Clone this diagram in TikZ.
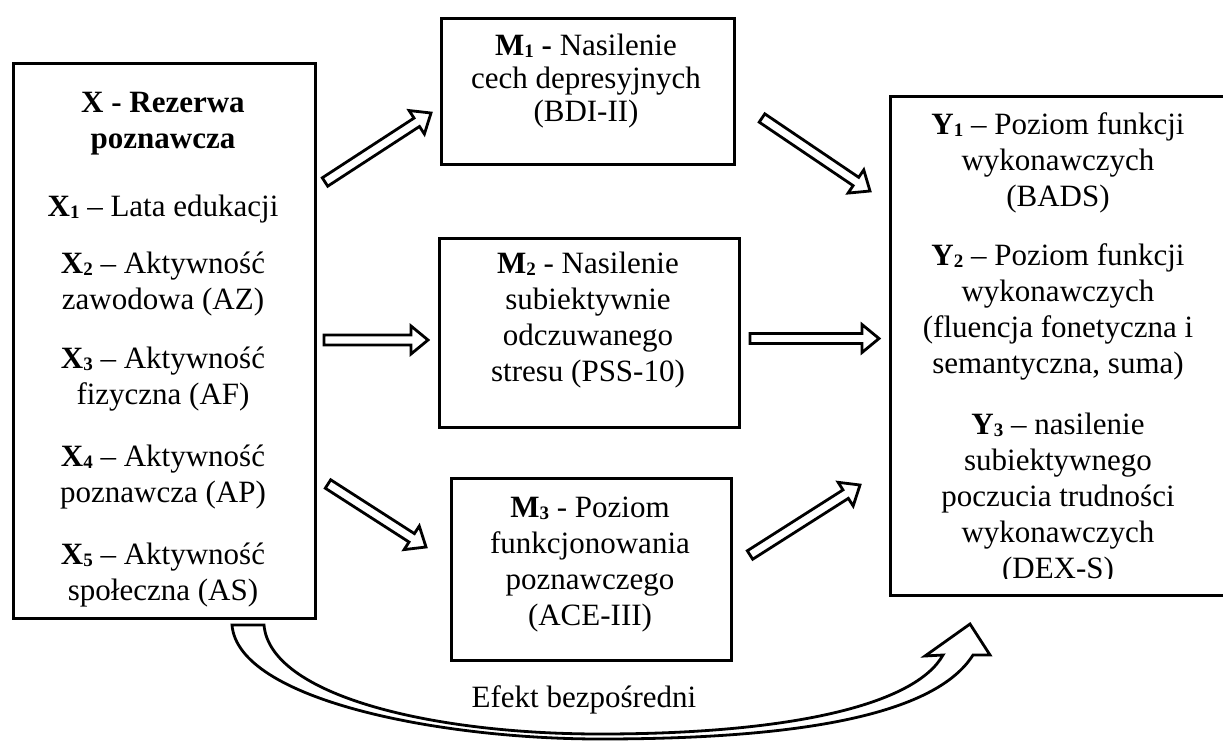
\documentclass[tikz,border=0pt]{standalone}
\usepackage{fontspec}
\setmainfont{Liberation Serif}
\usetikzlibrary{calc}

% lowered index digit, as in X1, M2, Y3
\newcommand{\idx}[1]{\raisebox{-2pt}{\fontsize{19}{19}\selectfont #1}}

% hollow block arrow from tail coordinate #1 to tip coordinate #2
\newcommand{\blockarrow}[2]{%
  \coordinate (hb) at ($(#2)!17pt!(#1)$);
  \draw[hollow]
    ($(#1)!5pt!90:(#2)$)
    -- ($(hb)!5pt!-90:(#1)$)
    -- ($(hb)!14pt!-90:(#1)$)
    -- (#2)
    -- ($(hb)!14pt!90:(#1)$)
    -- ($(hb)!5pt!90:(#1)$)
    -- ($(#1)!5pt!-90:(#2)$)
    -- cycle;
}

\tikzset{
  box/.style={draw, line width=3pt, fill=white, inner sep=0pt, anchor=north west},
  boxtext/.style={anchor=north, align=center, inner sep=0pt,
                  font=\fontsize{31}{36}\selectfont},
  hollow/.style={draw, line width=2.8pt, fill=white, line join=miter},
}

\begin{document}
\begin{tikzpicture}[x=1pt, y=-1pt]
\fill[white] (0,0) rectangle (1223,742);
\useasboundingbox (0,0) rectangle (1223,742);

% boxes
\node[box, minimum width=302pt, minimum height=555pt] (X)  at (12,62)  {};
\node[box, minimum width=293pt, minimum height=146pt] (M1) at (440,17) {};
\node[box, minimum width=300pt, minimum height=189pt] (M2) at (438,237) {};
\node[box, minimum width=280pt, minimum height=182pt] (M3) at (450,477) {};
\node[box, minimum width=339pt, minimum height=499pt] (Y)  at (889,95) {};

% box contents
\node[boxtext] (Xt) at (163,87) {\strut\textbf{X - Rezerwa}\\
  \textbf{poznawcza}\\[32pt]
  \textbf{X\idx{1}} – Lata edukacji\\[21pt]
  \textbf{X\idx{2}} – Aktywność\\
  zawodowa (AZ)\\[23pt]
  \textbf{X\idx{3}} – Aktywność\\
  fizyczna (AF)\\[26pt]
  \textbf{X\idx{4}} – Aktywność\\
  poznawcza (AP)\\[26pt]
  \textbf{X\idx{5}} – Aktywność\\
  społeczna (AS)};

\node[boxtext, font=\fontsize{31}{33}\selectfont] (M1t) at (586,32) {\strut\textbf{M\idx{1} -} Nasilenie\\
  cech depresyjnych\\
  (BDI-II)};

\node[boxtext] (M2t) at (588,248) {\strut\textbf{M\idx{2}} - Nasilenie\\
  subiektywnie\\
  odczuwanego\\
  stresu (PSS-10)};

\node[boxtext] (M3t) at (590,492) {\strut\textbf{M\idx{3}} - Poziom\\
  funkcjonowania\\
  poznawczego\\
  (ACE-III)};

% the last line of the Y box runs past its text area and is cut off
\begin{scope}
  \clip (889,95) rectangle (1223,578);
  \node[boxtext] (Yt) at (1058,109) {\strut\textbf{Y\idx{1}} – Poziom funkcji\\
    wykonawczych\\
    (BADS)\\[23pt]
    \textbf{Y\idx{2}} – Poziom funkcji\\
    wykonawczych\\
    (fluencja fonetyczna i\\
    semantyczna, suma)\\[25pt]
    \textbf{Y\idx{3}} – nasilenie\\
    subiektywnego\\
    poczucia trudności\\
    wykonawczych\\
    (DEX-S)};
\end{scope}

% arrow ends
\coordinate (xm1s) at (325,182);  \coordinate (xm1e) at (431,113);
\coordinate (xm2s) at (324,340);  \coordinate (xm2e) at (428,340);
\coordinate (xm3s) at (328,484);  \coordinate (xm3e) at (426,547);
\coordinate (m1ys) at (762,118);  \coordinate (m1ye) at (870,191);
\coordinate (m2ys) at (750,338.5);\coordinate (m2ye) at (879,338.5);
\coordinate (m3ys) at (750,555);  \coordinate (m3ye) at (860,485);

\blockarrow{xm1s}{xm1e}
\blockarrow{xm2s}{xm2e}
\blockarrow{xm3s}{xm3e}
\blockarrow{m1ys}{m1ye}
\blockarrow{m2ys}{m2ye}
\blockarrow{m3ys}{m3ye}

% direct effect: curved hollow arrow under the boxes
\draw[hollow]
  (232,625) -- (264,625)
  .. controls (270,695) and (430,734) .. (600,734)
  .. controls (790,734) and (915,705) .. (943,655)
  -- (925,656) -- (970,624) -- (990,655) -- (973,655)
  .. controls (935,715) and (800,739) .. (600,739)
  .. controls (440,739) and (238,700) .. (232,625)
  -- cycle;

\node[anchor=base, inner sep=0pt, font=\fontsize{31}{36}\selectfont] (eff) at (584,707) {Efekt bezpośredni};
\end{tikzpicture}
\end{document}
